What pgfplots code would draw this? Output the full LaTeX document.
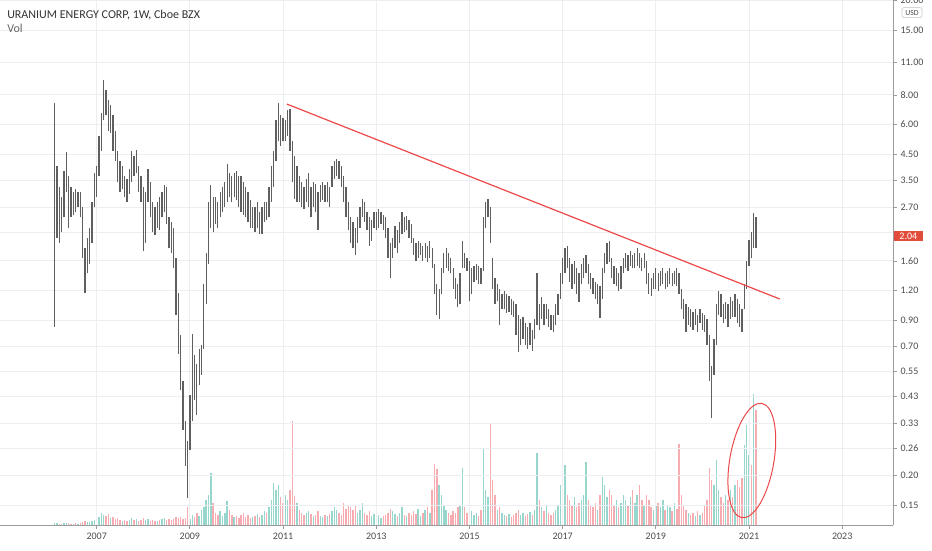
\documentclass[border=0pt]{standalone}
\usepackage{pgfplots}
\pgfplotsset{compat=1.18}
\usepackage{pgfplotstable}
\usepackage{fontspec}
\setmainfont{Carlito}
\definecolor{candle}{RGB}{95,95,95}
\definecolor{volup}{RGB}{150,214,204}
\definecolor{voldn}{RGB}{246,172,176}
\definecolor{gridcol}{RGB}{236,238,241}
\definecolor{axiscol}{RGB}{155,155,155}
\definecolor{txt}{RGB}{75,75,75}
\definecolor{titletxt}{RGB}{50,50,50}
\definecolor{redlab}{RGB}{226,76,60}
\definecolor{trend}{RGB}{236,72,72}

\pgfplotstableread{
x lo hi v u
2006.10 0.84 7.40 2 1
2006.15 2.00 4.01 2 1
2006.20 1.91 3.29 1 0
2006.25 2.11 2.98 1 0
2006.30 2.44 3.81 2 1
2006.35 3.13 4.60 2 1
2006.40 2.21 3.63 2 0
2006.45 2.44 3.29 1 0
2006.50 2.50 3.13 1 1
2006.55 2.57 3.20 2 0
2006.60 2.70 3.13 1 1
2006.65 2.44 3.13 2 0
2006.70 1.64 2.70 3 0
2006.75 1.17 1.81 4 0
2006.80 1.42 2.00 3 1
2006.85 1.56 2.21 3 1
2006.90 1.91 2.83 4 1
2006.95 2.70 3.74 5 1
2007.00 2.98 4.01 6 1
2007.05 3.63 5.39 8 1
2007.10 4.65 6.70 12 1
2007.15 6.25 9.25 10 1
2007.20 6.57 8.40 9 0
2007.25 5.66 7.62 11 0
2007.30 5.55 7.25 7 1
2007.35 4.65 6.57 8 0
2007.40 4.21 5.66 6 0
2007.45 3.45 4.65 7 0
2007.50 3.13 4.21 5 0
2007.55 3.20 4.00 4 1
2007.60 2.98 3.63 5 0
2007.65 2.83 3.55 4 0
2007.70 3.07 3.90 5 1
2007.75 3.45 4.65 7 1
2007.80 3.63 4.42 5 0
2007.85 3.74 4.70 6 1
2007.90 3.13 4.00 4 0
2007.95 2.83 3.63 5 0
2008.00 1.76 3.29 7 0
2008.05 1.91 3.13 5 1
2008.10 2.83 3.90 6 1
2008.15 2.44 3.45 4 0
2008.20 2.11 2.83 5 0
2008.25 2.05 2.70 4 0
2008.30 2.21 2.83 4 1
2008.35 2.15 2.98 5 0
2008.40 2.44 3.13 6 1
2008.45 2.57 3.35 7 1
2008.50 2.28 3.29 5 0
2008.55 1.81 2.44 6 0
2008.60 1.73 2.33 5 0
2008.65 1.49 2.21 6 0
2008.70 0.95 1.64 8 0
2008.75 0.65 1.17 7 0
2008.80 0.457 0.78 8 0
2008.85 0.31 0.50 6 0
2008.90 0.22 0.34 7 0
2008.95 0.16 0.28 18 0
2009.00 0.255 0.435 6 1
2009.05 0.34 0.79 10 1
2009.10 0.415 0.64 8 0
2009.15 0.36 0.59 12 0
2009.20 0.48 0.68 9 1
2009.25 0.53 0.71 15 1
2009.30 0.68 1.28 18 1
2009.35 1.05 1.73 25 1
2009.40 1.56 2.83 30 1
2009.45 2.21 3.35 52 1
2009.50 2.11 2.98 22 0
2009.55 2.28 2.98 12 0
2009.60 2.21 2.83 10 0
2009.65 2.44 3.13 14 1
2009.70 2.57 3.29 9 1
2009.75 2.70 3.45 12 1
2009.80 2.83 4.10 24 1
2009.85 2.98 3.74 15 0
2009.90 2.83 3.63 10 0
2009.95 2.98 3.74 8 1
2010.00 2.90 3.81 9 0
2010.05 2.70 3.63 7 0
2010.10 2.57 3.63 10 0
2010.15 2.50 3.45 12 0
2010.20 2.44 3.29 8 0
2010.25 2.33 3.13 10 0
2010.30 2.21 2.90 7 0
2010.35 2.21 2.70 8 1
2010.40 2.11 2.70 9 0
2010.45 2.21 2.83 11 1
2010.50 2.07 2.57 8 0
2010.55 2.07 2.70 10 1
2010.60 2.33 2.83 14 1
2010.65 2.37 2.83 12 0
2010.70 2.44 3.29 18 1
2010.75 2.83 4.00 25 1
2010.80 3.29 4.65 42 1
2010.85 4.21 6.25 35 1
2010.90 5.13 7.40 40 1
2010.95 4.88 6.57 28 0
2011.00 5.13 6.40 22 0
2011.05 5.13 6.25 30 1
2011.10 5.39 6.90 25 1
2011.15 4.65 7.00 35 0
2011.20 3.45 5.13 104 0
2011.25 2.92 4.42 29 0
2011.30 2.83 4.00 22 1
2011.35 2.83 3.63 15 0
2011.40 2.70 3.45 12 0
2011.45 2.66 3.29 10 0
2011.50 2.83 3.55 12 1
2011.55 2.70 3.74 14 1
2011.60 2.44 3.29 11 0
2011.65 2.70 3.45 9 1
2011.70 2.57 3.38 10 0
2011.75 2.15 3.13 14 0
2011.80 2.83 3.35 9 1
2011.85 2.90 3.45 8 1
2011.90 2.83 3.35 10 0
2011.95 2.83 3.45 9 1
2012.00 2.70 3.29 11 0
2012.05 3.29 4.00 14 1
2012.10 3.55 4.21 18 1
2012.15 3.63 4.30 15 1
2012.20 3.55 4.21 12 0
2012.25 3.29 4.00 10 0
2012.30 2.83 3.63 22 0
2012.35 2.44 3.29 16 0
2012.40 2.15 2.83 20 0
2012.45 1.91 2.44 18 0
2012.50 1.81 2.33 15 0
2012.55 1.70 2.21 20 0
2012.60 1.91 2.44 12 1
2012.65 2.21 2.70 15 1
2012.70 2.44 2.92 22 1
2012.75 2.33 2.83 12 0
2012.80 2.15 2.57 10 0
2012.85 1.85 2.44 14 0
2012.90 1.95 2.37 9 1
2012.95 2.21 2.57 11 1
2013.00 2.15 2.57 8 0
2013.05 2.21 2.64 10 1
2013.10 2.28 2.57 7 1
2013.15 2.15 2.50 9 0
2013.20 2.00 2.44 10 0
2013.25 1.64 2.21 12 0
2013.30 1.35 1.91 16 0
2013.35 1.64 2.00 14 1
2013.40 1.81 2.25 11 1
2013.45 1.73 2.15 9 0
2013.50 1.91 2.33 12 1
2013.55 2.07 2.57 18 1
2013.60 2.11 2.44 10 0
2013.65 2.15 2.48 9 1
2013.70 2.00 2.37 12 0
2013.75 1.91 2.28 10 0
2013.80 1.70 2.00 14 0
2013.85 1.60 1.91 11 0
2013.90 1.64 1.95 16 1
2013.95 1.70 1.91 9 1
2014.00 1.60 1.85 12 0
2014.05 1.64 1.91 15 1
2014.10 1.58 1.85 18 0
2014.15 1.64 1.95 12 1
2014.20 1.49 1.81 35 0
2014.25 1.16 1.56 61 0
2014.30 0.95 1.28 56 0
2014.35 0.91 1.22 40 1
2014.40 1.16 1.49 30 1
2014.45 1.42 1.73 20 1
2014.50 1.49 1.81 15 1
2014.55 1.45 1.73 12 0
2014.60 1.42 1.64 10 0
2014.65 1.22 1.49 14 0
2014.70 1.11 1.35 12 0
2014.75 1.02 1.28 18 0
2014.80 1.05 1.42 20 1
2014.85 1.49 1.95 57 1
2014.90 1.49 1.73 18 0
2014.95 1.45 1.64 12 0
2015.00 1.08 1.60 16 0
2015.05 1.16 1.49 14 1
2015.10 1.31 1.53 10 1
2015.15 1.33 1.56 12 1
2015.20 1.28 1.53 9 0
2015.25 1.28 1.49 15 0
2015.30 1.45 2.44 77 1
2015.35 2.21 2.83 35 1
2015.40 2.44 2.92 28 1
2015.45 1.91 2.70 102 0
2015.50 1.22 1.64 45 0
2015.55 1.05 1.35 30 0
2015.60 1.08 1.28 15 1
2015.65 0.86 1.22 18 0
2015.70 1.00 1.16 12 1
2015.75 1.00 1.19 10 1
2015.80 0.97 1.16 9 0
2015.85 0.98 1.14 11 1
2015.90 0.95 1.11 8 0
2015.95 0.93 1.08 10 0
2016.00 0.78 1.05 12 0
2016.05 0.66 0.95 15 0
2016.10 0.71 0.91 10 1
2016.15 0.75 0.93 12 1
2016.20 0.71 0.88 9 0
2016.25 0.68 0.84 11 0
2016.30 0.71 0.88 13 1
2016.35 0.67 0.82 10 0
2016.40 0.75 0.91 15 1
2016.45 0.86 1.42 72 1
2016.50 0.82 1.05 25 0
2016.55 0.91 1.13 18 1
2016.60 0.86 1.05 14 0
2016.65 0.91 1.05 20 1
2016.70 0.84 1.00 12 0
2016.75 0.82 0.95 10 0
2016.80 0.80 0.95 12 0
2016.85 0.86 1.05 15 1
2016.90 0.95 1.16 20 1
2016.95 1.11 1.42 40 1
2017.00 1.28 1.64 79 1
2017.05 1.42 1.81 60 1
2017.10 1.49 1.85 30 0
2017.15 1.31 1.64 25 0
2017.20 1.22 1.56 20 0
2017.25 1.28 1.60 28 1
2017.30 1.16 1.49 18 0
2017.35 1.07 1.42 22 0
2017.40 1.28 1.56 25 1
2017.45 1.35 1.64 30 1
2017.50 1.42 1.70 63 1
2017.55 1.28 1.56 25 0
2017.60 1.22 1.42 20 0
2017.65 1.16 1.35 18 0
2017.70 1.11 1.31 22 0
2017.75 1.05 1.28 15 1
2017.80 0.92 1.25 30 0
2017.85 1.11 1.49 48 1
2017.90 1.42 1.73 40 1
2017.95 1.56 1.91 28 1
2018.00 1.58 1.95 35 0
2018.05 1.35 1.64 30 0
2018.10 1.28 1.53 20 0
2018.15 1.25 1.49 25 1
2018.20 1.20 1.42 18 0
2018.25 1.22 1.53 22 1
2018.30 1.42 1.64 30 1
2018.35 1.49 1.73 25 1
2018.40 1.45 1.70 20 0
2018.45 1.53 1.76 28 1
2018.50 1.49 1.70 35 0
2018.55 1.49 1.73 22 1
2018.60 1.53 1.81 30 1
2018.65 1.49 1.73 40 0
2018.70 1.45 1.64 25 0
2018.75 1.49 1.73 20 1
2018.80 1.28 1.60 30 0
2018.85 1.16 1.42 25 0
2018.90 1.14 1.35 18 0
2018.95 1.22 1.42 15 1
2019.00 1.22 1.49 20 1
2019.05 1.20 1.42 22 0
2019.10 1.25 1.45 18 1
2019.15 1.28 1.49 25 1
2019.20 1.22 1.42 15 0
2019.25 1.24 1.45 20 1
2019.30 1.28 1.49 18 1
2019.35 1.25 1.42 14 0
2019.40 1.28 1.45 22 1
2019.45 1.25 1.49 16 0
2019.50 1.16 1.42 81 0
2019.55 1.00 1.22 30 0
2019.60 0.91 1.11 20 0
2019.65 0.80 1.05 15 0
2019.70 0.86 1.02 12 1
2019.75 0.84 1.00 10 0
2019.80 0.82 0.98 12 0
2019.85 0.86 1.00 9 1
2019.90 0.80 0.95 14 0
2019.95 0.88 1.00 10 1
2020.00 0.82 0.97 12 0
2020.05 0.80 0.95 20 0
2020.10 0.71 0.91 25 0
2020.15 0.50 0.78 57 0
2020.20 0.35 0.58 45 0
2020.25 0.53 0.75 40 1
2020.30 0.71 1.05 65 1
2020.35 0.95 1.19 35 1
2020.40 0.93 1.16 28 0
2020.45 0.88 1.05 22 0
2020.50 0.91 1.07 30 1
2020.55 0.84 1.05 25 0
2020.60 0.91 1.13 35 1
2020.65 0.93 1.08 28 0
2020.70 0.93 1.16 40 1
2020.75 0.88 1.11 45 0
2020.80 0.84 1.05 38 0
2020.85 0.80 1.00 47 0
2020.90 1.00 1.28 80 1
2020.95 1.22 1.60 100 1
2021.00 1.53 1.97 70 1
2021.05 1.64 2.11 60 0
2021.10 1.81 2.55 131 1
2021.15 1.81 2.44 115 0
}\price

\begin{document}
\begin{tikzpicture}
\useasboundingbox (0,-18.75pt) rectangle (699pt,393.75pt);
% volume pane
\begin{axis}[
  at={(0,0)}, anchor=south west, scale only axis,
  width=669.75pt, height=393.75pt,
  xmin=2004.925, xmax=2024.09, ymin=0, ymax=525,
  hide axis]
\addplot[ycomb, volup, line width=1.05pt, mark=none] table[x=x, y expr={\thisrow{u}>0 ? \thisrow{v} : 0}] {\price};
\addplot[ycomb, voldn, line width=1.05pt, mark=none] table[x=x, y expr={\thisrow{u}>0 ? 0 : \thisrow{v}}] {\price};
\end{axis}
% price pane
\begin{axis}[
  at={(0,0)}, anchor=south west, scale only axis,
  width=669.75pt, height=393.75pt,
  xmin=2004.925, xmax=2024.09,
  ymode=log, ymin=0.1236, ymax=20.1,
  axis x line*=bottom, axis y line*=right,
  axis line style={-, draw=axiscol, line width=0.75pt},
  tick style={draw=axiscol, line width=0.6pt},
  tick align=outside, major tick length=3pt,
  grid=major, major grid style={draw=gridcol, line width=0.75pt},
  xtick={2007,2009,2011,2013,2015,2017,2019,2021,2023},
  xticklabels={2007,2009,2011,2013,2015,2017,2019,2021,2023},
  ytick={0.15,0.2,0.26,0.33,0.43,0.55,0.7,0.9,1.2,1.6,2.1,2.7,3.5,4.5,6,8,11,15,20},
  yticklabels={0.15,0.20,0.26,0.33,0.43,0.55,0.70,0.90,1.20,1.60,,2.70,3.50,4.50,6.00,8.00,11.00,15.00,20.00},
  minor tick num=0,
  /pgf/number format/assume math mode=true,
  ticklabel style={font=\fontsize{7.5}{8}\selectfont, text=txt},
  yticklabel style={anchor=west, inner sep=0pt, xshift=2.5pt},
  xticklabel style={anchor=north, inner sep=0pt, yshift=-3pt},
  clip mode=individual,
  ]
\addplot[draw=none, mark=none,
  error bars/.cd, y dir=plus, y explicit, error mark=none,
  error bar style={solid, draw=candle, line width=0.95pt}]
  table[x=x, y=lo, y error expr=\thisrow{hi}-\thisrow{lo}] {\price};
\addplot[trend, line width=0.9pt, mark=none] coordinates {(2011.08,7.33) (2021.66,1.106)};
\draw[trend, line width=0.75pt] (axis cs:2021.06,0.231) circle[x radius=43.5pt, y radius=16.5pt, rotate=80];
\node[anchor=base west, xshift=5.25pt, yshift=-14.25pt, font=\fontsize{9}{10}\selectfont, text=titletxt, inner sep=0pt] at (rel axis cs:0,1) {URANIUM ENERGY CORP, 1W, Cboe BZX};
\node[anchor=base west, xshift=5.25pt, yshift=-24.5pt, font=\fontsize{9}{10}\selectfont, text=txt!85, inner sep=0pt] at (rel axis cs:0,1) {Vol};
\node[anchor=west, fill=redlab, text=white, inner sep=0pt, minimum width=21.75pt, minimum height=8pt, font=\fontsize{7.5}{8}\selectfont, xshift=0.4pt] at (axis cs:2024.09,2.04) {2.04};
\node[draw=axiscol!60, rounded corners=1.5pt, text=txt, inner sep=0pt, minimum width=15pt, minimum height=7.5pt, font=\fontsize{5.8}{6}\selectfont] at ([xshift=14.25pt, yshift=-9.4pt]rel axis cs:1,1) {USD};
\end{axis}
\end{tikzpicture}
\end{document}
